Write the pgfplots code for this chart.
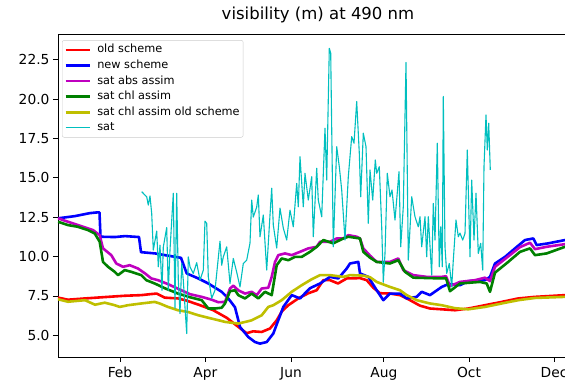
\documentclass[border=0pt]{standalone}
\usepackage{fontspec}
\setmainfont{DejaVu Sans}
\usepackage{pgfplots}
\pgfplotsset{compat=1.18}
\definecolor{mplr}{rgb}{1,0,0}
\definecolor{mplb}{rgb}{0,0,1}
\definecolor{mplm}{rgb}{0.75,0,0.75}
\definecolor{mplg}{rgb}{0,0.5,0}
\definecolor{mply}{rgb}{0.75,0.75,0}
\definecolor{mplc}{rgb}{0,0.75,0.75}
\begin{document}
\begin{tikzpicture}
\begin{axis}[name=ax, scale only axis, width=520pt, height=323pt,
  xmin=58, xmax=578, ymin=3.62, ymax=24.14,
  xtick={120,205.4,291,383.8,469,554}, xticklabels={Feb,Apr,Jun,Aug,Oct,Dec},
  ytick={5,7.5,10,12.5,15,17.5,20,22.5},
  yticklabel style={/pgf/number format/fixed,/pgf/number format/fixed zerofill,/pgf/number format/precision=1},
  /pgf/number format/assume math mode=true,
  xtick pos=left, ytick pos=left,
  tick align=outside, major tick length=5pt,
  tick style={black, line width=0.8pt},
  axis line style={black, line width=0.8pt},
  ticklabel style={font=\fontsize{13.8}{16}\selectfont},
  xticklabel style={yshift=-1.5pt},
  title={visibility (m) at 490 nm},
  title style={at={(0.5,1)}, anchor=base, yshift=8pt, font=\fontsize{16.5}{19}\selectfont},
  legend cell align=left,
  legend image code/.code={\draw[#1] (0pt,0pt) -- (24pt,0pt);},
  legend style={at={(0.0077,0.981)}, anchor=north west, draw=black!20, rounded corners=2pt,
    fill=white, fill opacity=0.8, text opacity=1, inner xsep=2pt, inner ysep=2.4pt,
    row sep=1.4pt, column sep=5pt,
    font=\fontsize{11.3}{13}\selectfont,
    nodes={inner sep=1.5pt, text height=8.6pt, text depth=2.6pt}},
  every axis plot/.append style={line join=round},
]
% old scheme
\addplot[mplr, line width=2.6pt] coordinates {
(58,7.39) (68,7.26) (85,7.34) (108,7.44) (124.7,7.51) (141.3,7.55) (150,7.61) (156.7,7.65)
(164.7,7.39) (178,7.34) (186.7,7.20) (200,6.91) (213.3,6.59) (226.7,6.11) (240,5.45) (246.7,5.13)
(253,5.25) (261.7,5.21) (270,5.43) (276.7,5.95) (282,6.53) (288.3,6.91) (298.3,7.34) (308.3,7.67)
(316.7,7.86) (323.3,8.50) (330,8.50) (338,8.29) (346.7,8.61) (360,8.63) (366.7,8.50) (373.3,8.02)
(380,7.67) (390,7.65) (400,7.55) (410,7.23) (420,6.88) (430,6.70) (441.7,6.65) (455,6.59)
(468.3,6.70) (485,6.91) (501.7,7.12) (518.3,7.34) (535,7.44) (565,7.55) (578,7.58)};
\addlegendentry{old scheme}
% new scheme
\addplot[mplb, line width=2.6pt] coordinates {
(58,12.43) (75,12.57) (90,12.76) (98,12.81) (99.5,12.80) (100.5,11.26) (115,11.24) (125,11.30)
(139,11.24) (141,10.28) (155,10.20) (165,10.09) (181,9.92) (186.7,8.93) (198.3,8.61) (208.3,8.29)
(221.7,7.76) (228.3,7.34) (235,6.78) (240,5.53) (248.3,4.89) (255,4.57) (260,4.47) (266.7,4.57)
(273.3,5.11) (283.3,6.80) (291.7,7.55) (300,7.34) (310,7.99) (320,8.29) (330,8.71) (338.3,8.61)
(346.7,9.24) (350,9.56) (358.3,9.66) (360,8.93) (368.3,8.71) (376.7,7.86) (383.3,7.23) (390,7.65)
(400,7.65) (406.7,7.34) (416.7,7.44) (421.7,7.76) (430,7.55) (441.7,8.07) (448.3,8.25) (460,8.18)
(468.3,8.44) (485,8.50) (490,8.71) (495,9.56) (505,9.98) (515,10.52) (525,11.05) (533.3,11.15)
(536.7,10.73) (548.3,10.84) (565,11.05) (578,11.10)};
\addlegendentry{new scheme}
% sat abs assim
\addplot[mplm, line width=2.6pt] coordinates {
(58,12.43) (68,12.21) (78,12.00) (88,11.79) (93,11.68) (99.7,11.36) (103,10.52) (111.3,10.09)
(116.3,9.56) (123,9.35) (129.7,9.45) (138,9.24) (145,8.93) (151.3,8.61) (158,8.50) (168,8.25)
(181.3,7.86) (190,7.61) (201.7,7.44) (211.7,7.26) (218.3,7.10) (225,7.12) (230,7.97) (233.3,8.15)
(238.3,7.86) (245,7.65) (251.7,7.76) (256.7,7.55) (261.7,7.97) (268.3,8.02) (271.7,8.71) (275,9.65)
(278.3,10.09) (285,10.20) (291.7,10.09) (300,10.30) (308.3,10.52) (316.7,10.62) (320,10.94) (330,10.94)
(336.7,11.15) (343.3,11.15) (348.3,11.36) (356.7,11.26) (360,11.15) (363.3,10.52) (370,10.06) (376.7,9.66)
(390,9.66) (398.3,9.88) (403.3,9.14) (413.3,8.82) (426.7,8.71) (441.7,8.71) (446,8.75) (450,8.12)
(460,8.39) (475,8.50) (485,8.66) (490,8.44) (495,9.35) (506.7,9.93) (520,10.60) (530,10.88)
(535,10.47) (546.7,10.62) (565,10.79) (578,10.85)};
\addlegendentry{sat abs assim}
% sat chl assim
\addplot[mplg, line width=2.6pt] coordinates {
(58,12.21) (68,12.00) (78,11.89) (88,11.68) (94.7,11.47) (99.7,10.94) (103,9.66) (108,9.35)
(114.7,9.03) (118,8.82) (124.7,9.14) (131.3,9.03) (141.3,8.82) (146.3,8.50) (154.7,8.29) (164.7,7.99)
(178,7.65) (189.7,7.42) (201.7,7.23) (208.3,6.70) (215,6.70) (221.7,6.75) (225,7.02) (230,7.80)
(235,7.86) (238.3,7.55) (245,7.34) (251.7,7.65) (258.3,7.34) (265,7.76) (271.7,7.55) (276.7,9.45)
(281.7,9.88) (288.3,9.77) (295,9.98) (301.7,9.98) (310,10.30) (316.7,10.62) (323.3,11.05) (333.3,10.84)
(343.3,11.15) (348.3,11.26) (360,11.15) (363.3,10.30) (370,9.93) (376.7,9.66) (390,9.56) (398.3,9.77)
(405,9.03) (413.3,8.66) (441.7,8.61) (446,8.63) (450,7.80) (460,8.29) (480,8.39) (486.7,8.29)
(490,7.76) (495,8.98) (506.7,9.58) (520,10.30) (530,10.52) (535,10.09) (546.7,10.20) (565,10.62)
(578,10.70)};
\addlegendentry{sat chl assim}
% sat chl assim old scheme
\addplot[mply, line width=2.6pt] coordinates {
(58,7.29) (68,7.13) (85,7.23) (95,6.94) (104.7,7.07) (114.7,6.91) (119.7,6.80) (128,6.91)
(141.3,7.02) (154.7,7.12) (159.7,7.02) (168,6.80) (178,6.59) (188,6.48) (198.3,6.27) (211.7,6.06)
(225,5.85) (238.3,5.74) (251.7,5.95) (261.7,6.27) (268.3,6.80) (273.3,6.91) (281.7,7.23) (291.7,7.76)
(301.7,8.18) (311.7,8.56) (320,8.82) (330,8.82) (343.3,8.71) (350,8.82) (363.3,8.79) (370,8.69)
(376.7,8.39) (390,8.07) (400,7.86) (406.7,7.55) (416.7,7.23) (430,7.02) (441.7,6.91) (455,6.72)
(468.3,6.65) (485,6.80) (501.7,7.02) (518.3,7.23) (535,7.37) (565,7.44) (578,7.45)};
\addlegendentry{sat chl assim old scheme}
% sat
\addplot[mplc, line width=1.1pt] coordinates {
(141.7,14.12) (146.7,13.80) (148.3,13.27) (150,13.85) (151.7,12.74) (153.3,10.41) (156.7,11.62) (158.3,9.35)
(160,10.73) (162,7.86) (163.3,10.60) (166.7,11.84) (168.3,7.86) (170,10.41) (173.3,14.02) (175,6.72)
(176.7,14.02) (178.3,8.50) (180,6.38) (181.7,9.56) (183.3,8.50) (185,6.78) (186.7,5.11) (188.3,9.98)
(190,9.35) (193.3,8.93) (196.7,9.61) (200,8.50) (203.3,9.14) (205,12.25) (206.7,12.11) (208.3,8.71)
(211.7,7.35) (215,7.86) (220,10.98) (221.7,9.45) (223.3,9.98) (226.7,10.62) (230,8.29) (233.3,9.88)
(236.7,9.01) (240,8.07) (243.3,9.56) (246.7,9.77) (250,10.86) (251.7,13.59) (253.3,12.51) (256.7,13.15)
(258.3,13.91) (260,11.26) (263.3,12.64) (266.7,9.14) (270,12.64) (271.7,14.34) (273.3,12.00) (276.7,10.54)
(280,13.08) (283.3,11.81) (286.7,11.05) (290,12.95) (293.3,11.89) (296.7,14.65) (298.3,13.16) (300,16.35)
(303.3,13.16) (305,15.29) (308.3,13.59) (311.7,15.07) (313.3,11.26) (316.7,15.61) (318.3,13.59) (321.7,12.53)
(325,18.15) (326.7,14.86) (329.3,23.23) (330.7,22.93) (333.3,10.62) (336.7,16.98) (339.3,15.71) (341.7,14.23)
(345,11.05) (348.3,15.07) (351.7,17.62) (354,17.20) (356.7,19.85) (359.3,16.56) (360.7,13.80) (363.3,17.84)
(366,16.98) (368.3,12.11) (370,15.50) (372.7,13.59) (375.3,16.14) (376.7,15.29) (379.3,15.71) (381.7,11.89)
(383.3,8.37) (385,10.20) (387.3,15.29) (390,13.80) (392,14.23) (395,12.32) (399,15.39) (400.7,10.62)
(403.3,13.16) (406,22.34) (408.3,9.77) (411.7,13.80) (415,12.53) (418.3,11.89) (420,12.53) (421.7,10.62)
(425,12.53) (426.7,9.98) (428.3,12.53) (431.7,8.82) (433.3,13.38) (435,11.05) (437.3,17.20) (439.3,9.35)
(440.7,11.89) (442.3,9.35) (443.3,20.17) (445,10.62) (446.7,8.93) (449.3,9.56) (451.7,8.07) (453.3,9.77)
(456,12.32) (458.3,11.26) (460,11.49) (462.7,11.05) (465,11.47) (467.3,16.77) (470,9.98) (471.7,14.86)
(474,11.05) (476,14.02) (478.3,10.20) (480.7,10.84) (482.7,9.14) (484,15.71) (486,19.00) (487.3,16.77)
(488.7,18.47) (490.3,15.50)};
\addlegendentry{sat}
\end{axis}
\pgfresetboundingbox
\path[use as bounding box] ([xshift=-58pt,yshift=-24pt]ax.south west) rectangle ([xshift=507pt,yshift=34pt]ax.north west);
\end{tikzpicture}
\end{document}
